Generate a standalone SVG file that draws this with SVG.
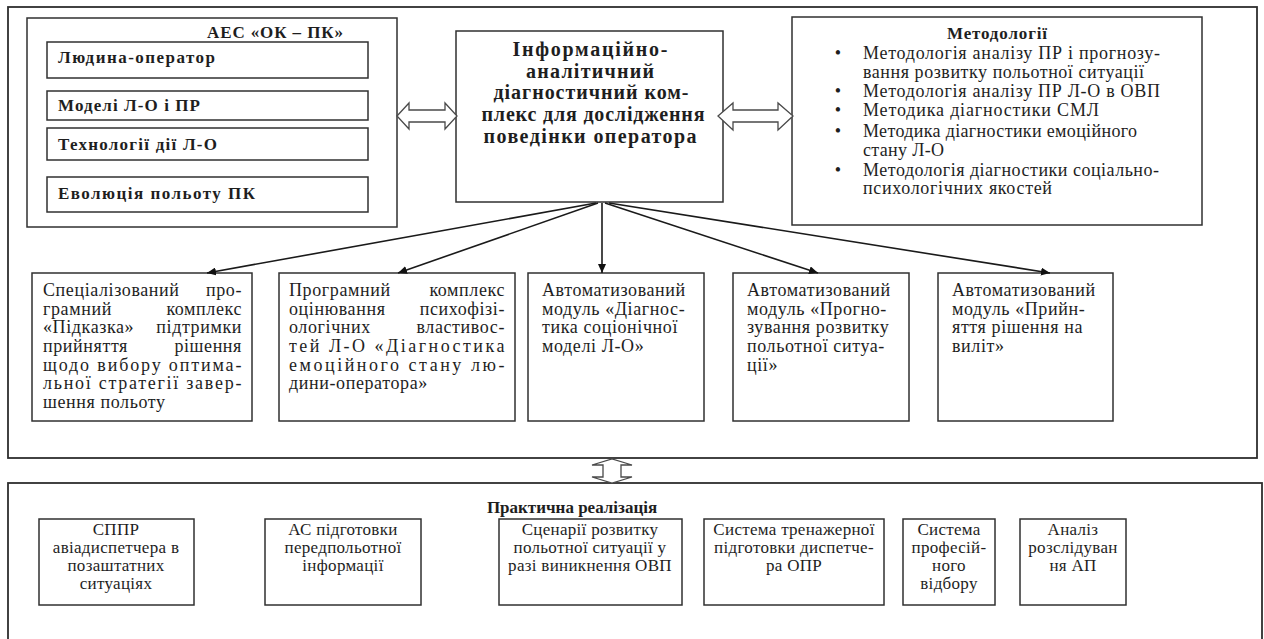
<svg xmlns="http://www.w3.org/2000/svg" width="1264" height="639" viewBox="0 0 1264 639">
  <style>
    .frame { fill: #ffffff; stroke: #2e2e2e; stroke-width: 1.8; }
    .box { fill: #ffffff; stroke: #303030; stroke-width: 1.5; }
    .dbl { fill: #ffffff; stroke: #4a4a4a; stroke-width: 1.3; stroke-linejoin: miter; }
    .link { fill: none; stroke: #1a1a1a; stroke-width: 1.6; }
    text { font-family: "Liberation Serif", "Times New Roman", serif; fill: #1e1e1e; }
    .b17 { font-size: 17px; font-weight: bold; }
    .b20 { font-size: 20px; font-weight: bold; }
    .t18 { font-size: 18px; }
    .mod { font-size: 18px; letter-spacing: 0.6px; }
    .t17 { font-size: 17px; letter-spacing: 0.3px; }
    .mid { text-anchor: middle; }
    .end { text-anchor: end; }
  </style>
  <defs>
    <marker id="head" markerUnits="userSpaceOnUse" markerWidth="10" markerHeight="8" refX="9" refY="4" orient="auto">
      <path d="M0,0 L9,4 L0,8 z" fill="#111111"/>
    </marker>
  </defs>

  <rect width="1264" height="639" fill="#ffffff"/>

  <!-- outer frames -->
  <rect id="upper-frame" class="frame" x="8" y="7" width="1249" height="451"/>
  <rect id="lower-frame" class="frame" x="8" y="483" width="1254" height="170"/>

  <!-- АЕС «ОК – ПК» block -->
  <g id="aes">
    <rect class="box" x="27" y="18" width="370" height="209"/>
    <text class="b17" x="207" y="38" textLength="136" lengthAdjust="spacing">АЕС «ОК – ПК»</text>
    <g id="aes-operator">
      <rect class="box" x="47" y="42" width="321" height="36"/>
      <text class="b17" x="58" y="63" textLength="157" lengthAdjust="spacing">Людина-оператор</text>
    </g>
    <g id="aes-models">
      <rect class="box" x="47" y="91" width="321" height="29"/>
      <text class="b17" x="58" y="111" textLength="142" lengthAdjust="spacing">Моделі Л-О і ПР</text>
    </g>
    <g id="aes-tech">
      <rect class="box" x="47" y="128" width="321" height="32"/>
      <text class="b17" x="58" y="150" textLength="159" lengthAdjust="spacing">Технології дії Л-О</text>
    </g>
    <g id="aes-evolution">
      <rect class="box" x="47" y="177" width="321" height="35"/>
      <text class="b17" x="58" y="199" textLength="197" lengthAdjust="spacing">Еволюція польоту ПК</text>
    </g>
  </g>

  <!-- central complex -->
  <g id="complex">
    <rect class="box" x="456" y="31" width="267" height="171"/>
    <text class="b20 mid" x="590" y="56" textLength="155" lengthAdjust="spacing">Інформаційно-</text>
    <text class="b20 mid" x="590" y="78" textLength="128" lengthAdjust="spacing">аналітичний</text>
    <text class="b20 mid" x="591" y="99" textLength="195" lengthAdjust="spacing">діагностичний ком-</text>
    <text class="b20 mid" x="593" y="121" textLength="223" lengthAdjust="spacing">плекс для дослідження</text>
    <text class="b20 mid" x="590" y="143" textLength="213" lengthAdjust="spacing">поведінки оператора</text>
  </g>

  <!-- methodologies -->
  <g id="methods">
    <rect class="box" x="792" y="17" width="410" height="208"/>
    <text class="b17 mid" x="997" y="39" textLength="100" lengthAdjust="spacing">Методології</text>
    <g class="t18">
      <text x="838" y="59" class="mid">•</text>
      <text x="863" y="59" textLength="297" lengthAdjust="spacing">Методологія аналізу ПР  і прогнозу-</text>
      <text x="863" y="78" textLength="281" lengthAdjust="spacing">вання розвитку польотної ситуації</text>
      <text x="838" y="97" class="mid">•</text>
      <text x="863" y="97" textLength="297" lengthAdjust="spacing">Методологія аналізу ПР Л-О в ОВП</text>
      <text x="838" y="116" class="mid">•</text>
      <text x="863" y="116" textLength="236" lengthAdjust="spacing">Методика діагностики  СМЛ</text>
      <text x="838" y="137" class="mid">•</text>
      <text x="863" y="137" textLength="274" lengthAdjust="spacing">Методика діагностики  емоційного</text>
      <text x="863" y="156" textLength="81" lengthAdjust="spacing">стану Л-О</text>
      <text x="838" y="176" class="mid">•</text>
      <text x="863" y="176" textLength="296" lengthAdjust="spacing">Методологія діагностики  соціально-</text>
      <text x="863" y="194" textLength="189" lengthAdjust="spacing">психологічних якостей</text>
    </g>
  </g>

  <!-- module 1 -->
  <g id="module-hint" class="mod">
    <rect class="box" x="32" y="273" width="220" height="148"/>
    <text x="43" y="296">Спеціалізований</text><text x="242" y="296" class="end">про-</text>
    <text x="43" y="315">грамний</text><text x="242" y="315" class="end">комплекс</text>
    <text x="43" y="333">«Підказка»</text><text x="242" y="333" class="end">підтримки</text>
    <text x="43" y="352">прийняття</text><text x="242" y="352" class="end">рішення</text>
    <text x="43" y="371" textLength="199" lengthAdjust="spacing">щодо вибору оптима-</text>
    <text x="43" y="389" textLength="199" lengthAdjust="spacing">льної стратегії завер-</text>
    <text x="43" y="408">шення польоту</text>
  </g>

  <!-- module 2 -->
  <g id="module-psycho" class="mod">
    <rect class="box" x="279" y="273" width="236" height="148"/>
    <text x="289" y="296">Програмний</text><text x="505" y="296" class="end">комплекс</text>
    <text x="289" y="315">оцінювання</text><text x="505" y="315" class="end">психофізі-</text>
    <text x="289" y="333">ологічних</text><text x="505" y="333" class="end">властивос-</text>
    <text x="289" y="352" textLength="216" lengthAdjust="spacing">тей Л-О «Діагностика</text>
    <text x="289" y="371" textLength="216" lengthAdjust="spacing">емоційного стану лю-</text>
    <text x="289" y="389">дини-оператора»</text>
  </g>

  <!-- module 3 -->
  <g id="module-socionics" class="mod">
    <rect class="box" x="528" y="273" width="176" height="148"/>
    <text x="542" y="296">Автоматизований</text>
    <text x="542" y="315">модуль «Діагнос-</text>
    <text x="542" y="333">тика соціонічної</text>
    <text x="542" y="352">моделі Л-О»</text>
  </g>

  <!-- module 4 -->
  <g id="module-forecast" class="mod">
    <rect class="box" x="733" y="273" width="176" height="148"/>
    <text x="747" y="296">Автоматизований</text>
    <text x="747" y="315">модуль «Прогно-</text>
    <text x="747" y="333">зування розвитку</text>
    <text x="747" y="352">польотної ситуа-</text>
    <text x="747" y="371">ції»</text>
  </g>

  <!-- module 5 -->
  <g id="module-departure" class="mod">
    <rect class="box" x="938" y="273" width="175" height="148"/>
    <text x="952" y="296">Автоматизований</text>
    <text x="952" y="315">модуль «Прийн-</text>
    <text x="952" y="333">яття рішення  на</text>
    <text x="952" y="352">виліт»</text>
  </g>

  <!-- practical implementation -->
  <g id="practice">
    <text class="b17 mid" x="572" y="513">Практична реалізація</text>
    <g id="practice-dss" class="t17 mid">
      <rect class="box" x="39" y="519" width="155" height="86"/>
      <text x="116" y="535">СППР</text>
      <text x="116" y="553">авіадиспетчера  в</text>
      <text x="116" y="571">позаштатних</text>
      <text x="116" y="589">ситуаціях</text>
    </g>
    <g id="practice-preflight" class="t17 mid">
      <rect class="box" x="265" y="519" width="156" height="86"/>
      <text x="343" y="535">АС підготовки</text>
      <text x="343" y="553">передпольотної</text>
      <text x="343" y="571">інформації</text>
    </g>
    <g id="practice-scenarios" class="t17 mid">
      <rect class="box" x="499" y="519" width="183" height="86"/>
      <text x="590" y="535">Сценарії розвитку</text>
      <text x="590" y="553">польотної ситуації  у</text>
      <text x="590" y="571">разі виникнення ОВП</text>
    </g>
    <g id="practice-trainer" class="t17 mid">
      <rect class="box" x="704" y="519" width="180" height="86"/>
      <text x="794" y="535">Система тренажерної</text>
      <text x="794" y="553">підготовки диспетче-</text>
      <text x="794" y="571">ра ОПР</text>
    </g>
    <g id="practice-selection" class="t17 mid">
      <rect class="box" x="903" y="519" width="92" height="86"/>
      <text x="949" y="535">Система</text>
      <text x="949" y="553">професій-</text>
      <text x="949" y="571">ного</text>
      <text x="949" y="589">відбору</text>
    </g>
    <g id="practice-accidents" class="t17 mid">
      <rect class="box" x="1020" y="519" width="106" height="86"/>
      <text x="1073" y="535">Аналіз</text>
      <text x="1073" y="553">розслідуван</text>
      <text x="1073" y="571">ня АП</text>
    </g>
  </g>

  <!-- connectors -->
  <g id="connectors">
    <polygon class="dbl" points="397,116 409,103 409,110 445,110 445,103 457,116 445,129 445,122 409,122 409,129"/>
    <polygon class="dbl" points="718,116 733,103 733,110 778,110 778,103 793,116 778,130 778,122 733,122 733,130"/>
    <polygon class="dbl" points="592,465 612,459 632,465 621,465 621,477 632,477 612,483 592,477 603,477 603,465"/>
    <line class="link" x1="596" y1="203" x2="207" y2="273" marker-end="url(#head)"/>
    <line class="link" x1="598" y1="203" x2="398" y2="273" marker-end="url(#head)"/>
    <line class="link" x1="602" y1="203" x2="602" y2="273" marker-end="url(#head)"/>
    <line class="link" x1="605" y1="203" x2="818" y2="273" marker-end="url(#head)"/>
    <line class="link" x1="609" y1="203" x2="1050" y2="273" marker-end="url(#head)"/>
  </g>
</svg>
